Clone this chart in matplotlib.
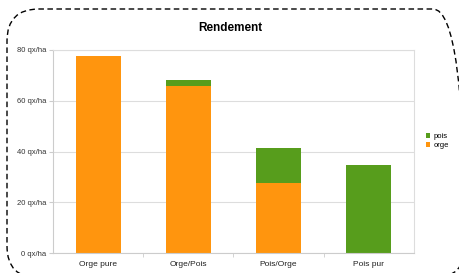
import matplotlib.pyplot as plt
from matplotlib.patches import FancyBboxPatch
from matplotlib.transforms import IdentityTransform

plt.rcParams["font.family"] = ["Liberation Sans", "DejaVu Sans"]

categories = ["Orge pure", "Orge/Pois", "Pois/Orge", "Pois pur"]
orge = [77.5, 66, 27.5, 0]
pois = [0, 2, 14, 34.5]
yticks = [0, 20, 40, 60, 80]
ytick_labels = ["0 qx/ha", "20 qx/ha", "40 qx/ha", "60 qx/ha", "80 qx/ha"]

c_orge = "#ff950e"
c_pois = "#579d1c"

fig = plt.figure(figsize=(4.6, 2.73), dpi=100)

# dashed rounded frame (runs off the right and bottom edges), pixel coords
frame = FancyBboxPatch((7, -5), 458, 269,
                       boxstyle="round,pad=0,rounding_size=32",
                       transform=IdentityTransform(), fill=False,
                       edgecolor="black", linestyle=(0, (4, 2.5)), linewidth=1.0)
fig.patches.append(frame)

ax = fig.add_axes([53 / 460, 1 - 253 / 273, (414 - 53) / 460, (253 - 50) / 273])
x = range(len(categories))
ax.bar(x, orge, width=0.5, color=c_orge, label="orge", zorder=2)
ax.bar(x, pois, width=0.5, bottom=orge, color=c_pois, label="pois", zorder=2)

ax.set_xlim(-0.5, 3.5)
ax.set_ylim(0, 80)
ax.set_yticks(yticks)
ax.set_yticklabels(ytick_labels, fontsize=5.5, color="#333333")
ax.set_xticks(list(x))
ax.set_xticklabels(categories, fontsize=6, color="#222222")
ax.set_xticks([0.5, 1.5, 2.5], minor=True)
ax.yaxis.grid(True, color="#dddddd", linewidth=0.8, zorder=0)
for s in ax.spines.values():
    s.set_color("#dddddd")
    s.set_linewidth(0.8)
ax.spines["left"].set_color("#cccccc")
ax.spines["bottom"].set_color("#cccccc")
ax.tick_params(axis="y", length=3, color="#cccccc", pad=2)
ax.tick_params(axis="x", which="major", length=0, pad=6)
ax.tick_params(axis="x", which="minor", length=3, color="#cccccc")

fig.text(230 / 460, 1 - 28 / 273, "Rendement", ha="center", va="center",
         fontsize=8.5, fontweight="bold")

handles, labels = ax.get_legend_handles_labels()
fig.legend(handles[::-1], labels[::-1], loc="center left",
           bbox_to_anchor=(422 / 460, 1 - 141 / 273), frameon=False,
           fontsize=5.5, handlelength=0.6, handleheight=0.6, handletextpad=0.4,
           labelspacing=0.3, borderpad=0)

fig.savefig("out.png", dpi=100)
